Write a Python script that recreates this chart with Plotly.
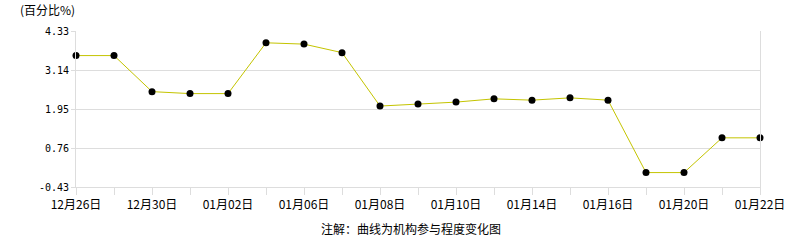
import plotly.graph_objects as go

dates = ["12月26日", "12月29日", "12月30日", "12月31日", "01月02日", "01月05日", "01月06日",
         "01月07日", "01月08日", "01月09日", "01月10日", "01月13日", "01月14日", "01月15日",
         "01月16日", "01月19日", "01月20日", "01月21日", "01月22日"]
values = [3.58, 3.58, 2.48, 2.42, 2.42, 3.97, 3.93, 3.67, 2.04, 2.10, 2.16, 2.26, 2.22, 2.29,
          2.22, 0.01, 0.01, 1.07, 1.07]
shown_labels = ["12月26日", "12月30日", "01月02日", "01月06日", "01月08日", "01月10日",
                "01月14日", "01月16日", "01月20日", "01月22日"]
y_ticks = [-0.43, 0.76, 1.95, 3.14, 4.33]

FONT = "Noto Sans CJK SC, SimSun, sans-serif"
MONO = "DejaVu Sans Mono, monospace"

fig = go.Figure()
fig.add_trace(go.Scatter(
    x=list(range(len(dates))), y=values, mode="lines+markers",
    line=dict(color="#C4C400", width=1),
    marker=dict(color="#000000", size=7),
    cliponaxis=False, hoverinfo="skip",
))

ticktext = [d if d in shown_labels else "" for d in dates]

fig.update_layout(
    width=786, height=240, autosize=False,
    margin=dict(l=76, r=26, t=31, b=53, pad=0),
    paper_bgcolor="white", plot_bgcolor="white",
    showlegend=False,
    font=dict(family=FONT, size=12, color="#000000"),
    xaxis=dict(
        range=[0, len(dates) - 1],
        tickmode="array", tickvals=list(range(len(dates))), ticktext=ticktext,
        showgrid=False, zeroline=False,
        showline=True, linecolor="#DDDDDD", linewidth=1, mirror=False,
        ticks="outside", ticklen=7, tickcolor="#DDDDDD", tickwidth=1,
        tickfont=dict(family=FONT, size=12, color="#000000"),
        tickangle=0, automargin=False,
    ),
    yaxis=dict(
        range=[y_ticks[0], y_ticks[-1]],
        tickmode="array", tickvals=y_ticks, ticktext=[f"{v:.2f}" for v in y_ticks],
        showgrid=True, gridcolor="#DDDDDD", gridwidth=1, zeroline=False,
        showline=True, linecolor="#DDDDDD", linewidth=1, mirror=True,
        ticks="outside", ticklen=4, tickcolor="#DDDDDD",
        tickfont=dict(family=MONO, size=10, color="#000000"),
        automargin=False,
    ),
    annotations=[
        dict(text="(百分比%)", xref="paper", yref="paper", x=-58/684, y=1,
             xanchor="left", yanchor="bottom", yshift=11, showarrow=False,
             font=dict(family=FONT, size=12, color="#000000")),
        dict(text="注解：曲线为机构参与程度变化图", xref="paper", yref="paper", x=0.5, y=0,
             xanchor="center", yanchor="middle", yshift=-41, xshift=-7, showarrow=False,
             font=dict(family=FONT, size=12, color="#000000")),
    ],
)

fig.write_html("out.html")
